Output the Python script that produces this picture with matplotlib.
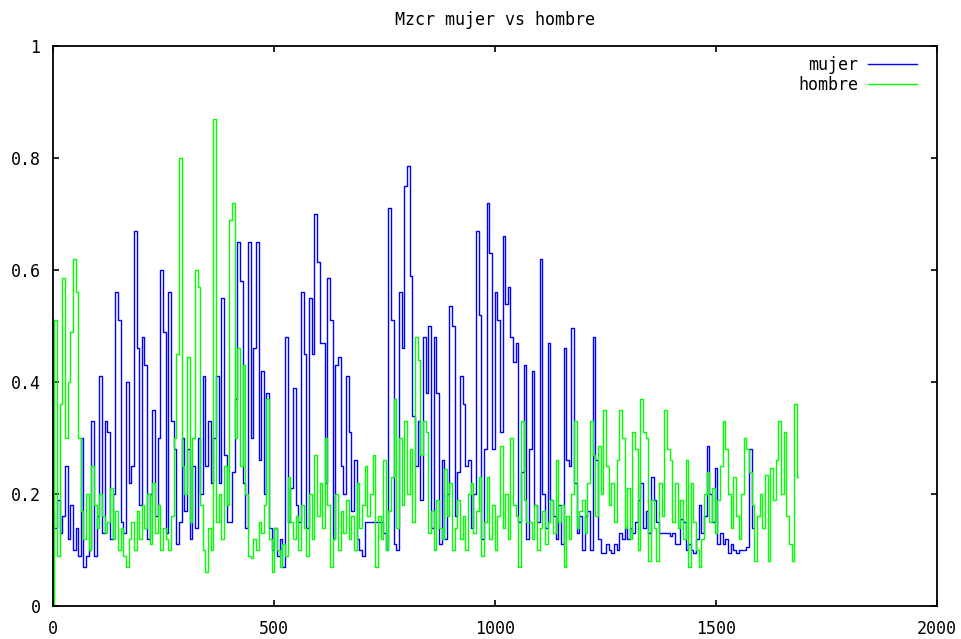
import numpy as np
import matplotlib
matplotlib.use('Agg')
import matplotlib.pyplot as plt

# one value read every 6 frames
FRAME_STEP = 6

mujer = [
    0.17, 0.14, 0.19, 0.13, 0.16, 0.25, 0.12, 0.18, 0.10, 0.14,
    0.09, 0.30, 0.07, 0.09, 0.10, 0.33, 0.09, 0.16, 0.41, 0.13,
    0.33, 0.31, 0.12, 0.20, 0.56, 0.51, 0.15, 0.13, 0.40, 0.22,
    0.25, 0.67, 0.46, 0.18, 0.48, 0.43, 0.12, 0.20, 0.35, 0.16,
    0.30, 0.60, 0.49, 0.13, 0.56, 0.33, 0.28, 0.11, 0.15, 0.30,
    0.17, 0.28, 0.12, 0.25, 0.14, 0.30, 0.20, 0.41, 0.25, 0.33,
    0.22, 0.30, 0.41, 0.22, 0.55, 0.27, 0.15, 0.15, 0.24, 0.37,
    0.65, 0.58, 0.22, 0.14, 0.65, 0.30, 0.46, 0.65, 0.26, 0.42,
    0.20, 0.38, 0.14, 0.10, 0.14, 0.09, 0.12, 0.07, 0.48, 0.15,
    0.21, 0.39, 0.18, 0.15, 0.56, 0.45, 0.14, 0.55, 0.45, 0.70,
    0.615, 0.47, 0.47, 0.22, 0.585, 0.51, 0.12, 0.43, 0.445, 0.25,
    0.20, 0.41, 0.31, 0.17, 0.26, 0.12, 0.10, 0.09, 0.15, 0.15,
    0.15, 0.15, 0.15, 0.15, 0.15, 0.13, 0.10, 0.71, 0.51, 0.11,
    0.10, 0.56, 0.46, 0.75, 0.785, 0.59, 0.34, 0.25, 0.33, 0.19,
    0.48, 0.38, 0.50, 0.14, 0.48, 0.38, 0.11, 0.26, 0.12, 0.20,
    0.535, 0.50, 0.16, 0.24, 0.41, 0.36, 0.25, 0.26, 0.14, 0.20,
    0.67, 0.52, 0.12, 0.28, 0.72, 0.63, 0.28, 0.56, 0.51, 0.31,
    0.66, 0.54, 0.57, 0.48, 0.435, 0.47, 0.15, 0.24, 0.43, 0.12,
    0.28, 0.42, 0.18, 0.15, 0.62, 0.20, 0.14, 0.47, 0.19, 0.16,
    0.12, 0.18, 0.11, 0.46, 0.26, 0.25, 0.496, 0.22, 0.13, 0.16,
    0.10, 0.16, 0.17, 0.10, 0.48, 0.26, 0.12, 0.095, 0.095, 0.11,
    0.10, 0.095, 0.11, 0.10, 0.13, 0.12, 0.14, 0.12, 0.14, 0.13,
    0.15, 0.19, 0.22, 0.14, 0.17, 0.13, 0.23, 0.19, 0.15, 0.13,
    0.13, 0.13, 0.13, 0.125, 0.13, 0.11, 0.11, 0.155, 0.15, 0.10,
    0.11, 0.10, 0.094, 0.12, 0.18, 0.13, 0.16, 0.285, 0.20, 0.15,
    0.246, 0.11, 0.13, 0.11, 0.12, 0.094, 0.11, 0.10, 0.094, 0.10,
    0.10, 0.10, 0.105, 0.28, 0.14,
]

hombre = [
    0.00, 0.51, 0.09, 0.36, 0.585, 0.30, 0.40, 0.49, 0.62, 0.56,
    0.30, 0.17, 0.12, 0.20, 0.10, 0.25, 0.18, 0.14, 0.20, 0.16,
    0.13, 0.15, 0.21, 0.12, 0.17, 0.10, 0.14, 0.09, 0.07, 0.12,
    0.15, 0.10, 0.17, 0.12, 0.18, 0.14, 0.20, 0.11, 0.22, 0.13,
    0.18, 0.10, 0.14, 0.12, 0.10, 0.16, 0.30, 0.45, 0.80, 0.25,
    0.20, 0.445, 0.15, 0.30, 0.60, 0.57, 0.18, 0.10, 0.06, 0.14,
    0.10, 0.87, 0.15, 0.20, 0.12, 0.25, 0.18, 0.69, 0.72, 0.30,
    0.46, 0.25, 0.43, 0.20, 0.09, 0.085, 0.12, 0.10, 0.15, 0.13,
    0.18, 0.37, 0.12, 0.06, 0.14, 0.10, 0.07, 0.11, 0.09, 0.23,
    0.15, 0.12, 0.16, 0.10, 0.18, 0.14, 0.09, 0.20, 0.12, 0.27,
    0.16, 0.22, 0.14, 0.30, 0.18, 0.07, 0.12, 0.20, 0.10, 0.17,
    0.13, 0.19, 0.12, 0.16, 0.10, 0.22, 0.14, 0.18, 0.25, 0.16,
    0.20, 0.27, 0.07, 0.16, 0.12, 0.26, 0.10, 0.17, 0.23, 0.37,
    0.14, 0.30, 0.18, 0.33, 0.20, 0.28, 0.15, 0.48, 0.44, 0.27,
    0.33, 0.31, 0.13, 0.17, 0.10, 0.19, 0.14, 0.12, 0.245, 0.16,
    0.22, 0.10, 0.14, 0.19, 0.12, 0.16, 0.10, 0.20, 0.22, 0.13,
    0.17, 0.23, 0.09, 0.15, 0.23, 0.12, 0.18, 0.10, 0.16, 0.285,
    0.14, 0.20, 0.12, 0.30, 0.18, 0.16, 0.07, 0.33, 0.19, 0.15,
    0.15, 0.12, 0.18, 0.10, 0.14, 0.17, 0.11, 0.15, 0.19, 0.13,
    0.26, 0.15, 0.18, 0.07, 0.16, 0.12, 0.20, 0.33, 0.14, 0.17,
    0.19, 0.13, 0.22, 0.33, 0.27, 0.16, 0.285, 0.20, 0.35, 0.25,
    0.18, 0.22, 0.15, 0.26, 0.35, 0.30, 0.14, 0.21, 0.12, 0.31,
    0.28, 0.10, 0.37, 0.31, 0.30, 0.08, 0.19, 0.14, 0.08, 0.22,
    0.16, 0.35, 0.28, 0.26, 0.15, 0.22, 0.14, 0.19, 0.12, 0.26,
    0.07, 0.22, 0.15, 0.10, 0.07, 0.12, 0.20, 0.24, 0.15, 0.21,
    0.13, 0.19, 0.25, 0.33, 0.28, 0.20, 0.14, 0.23, 0.16, 0.12,
    0.20, 0.30, 0.28, 0.24, 0.18, 0.08, 0.16, 0.20, 0.14, 0.234,
    0.08, 0.246, 0.19, 0.26, 0.33, 0.20, 0.31, 0.16, 0.11, 0.08,
    0.36, 0.23,
]

x_ticks = [0, 500, 1000, 1500, 2000]
y_ticks = [0, 0.2, 0.4, 0.6, 0.8, 1]
y_tick_labels = ['0', '0.2', '0.4', '0.6', '0.8', '1']

plt.rcParams['font.family'] = ['DejaVu Sans Mono']
plt.rcParams['font.size'] = 12

fig = plt.figure(figsize=(9.61, 6.39), dpi=100)
ax = fig.add_axes([53 / 961, 33 / 639, 884 / 961, 560 / 639])

x_m = np.arange(len(mujer)) * FRAME_STEP
x_h = np.arange(len(hombre)) * FRAME_STEP
ax.plot(x_m, mujer, color='#0000ff', lw=1.0, drawstyle='steps-mid', label='mujer')
ax.plot(x_h, hombre, color='#00ff00', lw=1.0, drawstyle='steps-mid', label='hombre')

ax.set_xlim(0, 2000)
ax.set_ylim(0, 1)
ax.set_xticks(x_ticks)
ax.set_yticks(y_ticks)
ax.set_yticklabels(y_tick_labels)
ax.tick_params(direction='in', length=4, width=1.2, top=True, right=True, color='black')
ax.tick_params(axis='x', pad=10)
ax.tick_params(axis='y', pad=9)
for s in ax.spines.values():
    s.set_linewidth(1.3)

ax.set_title('Mzcr mujer vs hombre', pad=15, fontsize=12)
ax.legend(loc='upper right', bbox_to_anchor=(0.977, 0.982), frameon=False,
          markerfirst=False, handlelength=2.9, handletextpad=0.6,
          labelspacing=0.1, borderpad=0, borderaxespad=0)

fig.savefig('out.png', dpi=100)
plt.close(fig)
